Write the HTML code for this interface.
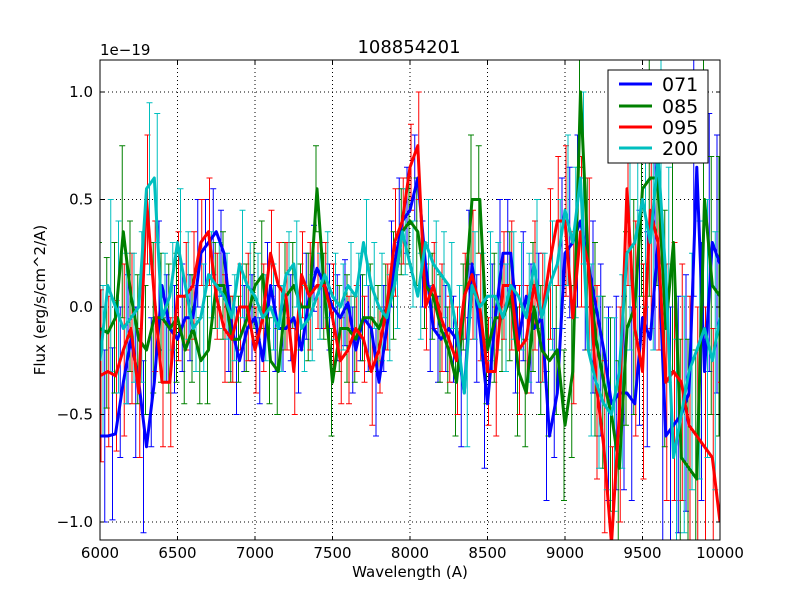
<!DOCTYPE html>
<html><head><meta charset="utf-8"><style>
html,body{margin:0;padding:0;background:#fff;overflow:hidden;width:800px;height:600px;}
svg{display:block;}
svg text{font-family:"DejaVu Sans","Liberation Sans",sans-serif;}
</style></head><body>
<svg id="chart" width="800" height="600" xmlns="http://www.w3.org/2000/svg">
<rect width="800" height="600" fill="#fff"/>
<defs><clipPath id="clip"><rect x="100" y="60" width="620" height="480"/></clipPath></defs>
<g id="grid"></g>
<g id="series" clip-path="url(#clip)"></g>
<rect x="100" y="60" width="620" height="480" fill="none" stroke="#000" stroke-width="1"/>
<g id="ticks"></g>
<text x="409" y="53" font-size="18" text-anchor="middle">108854201</text>
<text x="100" y="55" font-size="15">1e−19</text>
<text x="410" y="577" font-size="15" text-anchor="middle">Wavelength (A)</text>
<text x="45" y="300" font-size="15" text-anchor="middle" transform="rotate(-90 45 300)">Flux (erg/s/cm^2/A)</text>
<g>
<rect x="608" y="70" width="100" height="93" fill="#fff" stroke="#000" stroke-width="1"/>
<line x1="619" y1="84" x2="652" y2="84" stroke="#0000ff" stroke-width="3"/>
<text x="662" y="91" font-size="19">071</text>
<line x1="619" y1="106" x2="652" y2="106" stroke="#008000" stroke-width="3"/>
<text x="662" y="113" font-size="19">085</text>
<line x1="619" y1="127" x2="652" y2="127" stroke="#ff0000" stroke-width="3"/>
<text x="662" y="134" font-size="19">095</text>
<line x1="619" y1="148" x2="652" y2="148" stroke="#00bfbf" stroke-width="3"/>
<text x="662" y="155" font-size="19">200</text>
</g>
</svg>
<script>
const wavelengths = [];
for (let w = 6000; w <= 10000; w += 50) wavelengths.push(w);
const xTicks = [6000,6500,7000,7500,8000,8500,9000,9500,10000];
const yTicks = [-1.0,-0.5,0.0,0.5,1.0];
const yTickLabels = ["−1.0","−0.5","0.0","0.5","1.0"];
const flux071 = [-0.6,-0.6,-0.59,-0.35,-0.15,-0.35,-0.65,-0.35,0.1,-0.1,-0.15,-0.05,-0.05,0.25,0.3,0.35,0.25,-0.1,-0.25,-0.1,-0.05,-0.25,0.1,-0.1,-0.1,-0.05,-0.2,0.05,0.18,0.1,0,-0.05,0.02,-0.2,-0.05,-0.1,-0.35,-0.1,0.2,0.4,0.45,0.6,0.2,-0.1,-0.15,-0.1,-0.15,-0.4,0.2,-0.1,-0.45,-0.05,0.25,0.25,-0.15,0.05,-0.1,-0.05,-0.6,-0.4,0.25,0.3,0.4,0.2,0,-0.2,-0.45,-0.4,-0.4,-0.45,-0.05,-0.15,0.3,-0.6,-0.55,-0.5,-0.4,0.65,-0.3,0.3,0.2];
const flux085 = [-0.1,-0.12,-0.05,0.35,0.05,-0.15,-0.2,-0.05,-0.05,-0.1,-0.05,-0.2,-0.1,-0.25,-0.2,0.1,0.1,-0.15,-0.15,-0.05,0.1,0.15,-0.25,-0.3,0.05,0.1,0,0,0.55,0.05,-0.35,-0.1,-0.1,-0.15,-0.05,-0.05,-0.1,0,0.1,0.35,0.4,0.35,0.1,0.05,-0.1,-0.2,-0.35,0,0.5,0.5,-0.2,-0.05,-0.05,0.05,-0.3,-0.4,0,-0.2,-0.25,-0.2,-0.55,-0.3,1.0,0.2,-0.15,-0.35,-0.5,-0.75,-0.1,0,0.55,0.6,0.6,-0.1,0.3,-0.7,-0.75,-0.8,0.5,0.1,0.05];
const flux095 = [-0.32,-0.3,-0.32,-0.2,-0.1,-0.4,0.5,0.05,-0.35,-0.35,0.05,0.05,0.1,0.3,0.35,0.05,-0.1,-0.15,0,0,-0.2,-0.05,0.25,0.1,0.05,-0.3,0.15,0.05,0.1,0.1,-0.05,-0.25,-0.2,-0.1,-0.15,-0.3,-0.2,0,0.3,0.4,0.65,0.75,0,0.1,-0.05,-0.15,-0.25,0.05,0.15,0,-0.3,-0.3,0.1,0.1,-0.2,-0.15,0.1,-0.05,0.2,0.4,0.4,-0.05,0.35,0.2,-0.35,-0.65,-1.1,-0.5,0.55,-0.1,-0.3,0.45,0.3,-0.35,-0.3,-0.35,-0.55,-0.6,-0.65,-0.7,-1.0];
const flux200 = [-0.25,0.1,0,-0.1,-0.05,0,0.55,0.6,-0.05,0.05,0.3,0.1,-0.1,-0.05,0.15,0.1,0.05,-0.05,0.2,0.1,0.05,-0.05,0,-0.1,0.15,0.2,-0.1,-0.05,0.05,0.15,0.05,0,0.1,0.05,0.3,0.1,0,-0.05,0.1,0.35,0.2,0.05,0.3,0.2,0.15,0.1,-0.1,-0.4,0.1,0,0.05,0.05,-0.05,0.1,0.05,-0.05,0.2,-0.05,0.1,0.2,0.45,0.3,0.6,-0.2,-0.35,-0.45,-0.5,-0.3,0.25,0.3,0.5,0.3,0.7,0.15,-0.7,-0.5,-0.3,-0.2,-0.1,-0.25,-0.05];
const errA = [0.35,0.4,0.4,0.35,0.3,0.35,0.4,0.3,0.3,0.25,0.25,0.25,0.2,0.25,0.2,0.2,0.2,0.2,0.25,0.2,0.2,0.2,0.2,0.2,0.2,0.2,0.2,0.2,0.2,0.2,0.2,0.2,0.2,0.2,0.2,0.2,0.25,0.2,0.2,0.2,0.2,0.2,0.2,0.2,0.2,0.2,0.2,0.25,0.25,0.25,0.3,0.25,0.25,0.25,0.25,0.3,0.3,0.3,0.3,0.3,0.35,0.35,0.4,0.4,0.4,0.4,0.45,0.45,0.45,0.45,0.5,0.5,0.5,0.5,0.55,0.55,0.55,0.6,0.6,0.6,0.6];
const errB = [0.4,0.35,0.35,0.4,0.35,0.3,0.3,0.35,0.3,0.3,0.3,0.25,0.25,0.2,0.25,0.2,0.25,0.2,0.2,0.25,0.2,0.25,0.2,0.2,0.25,0.2,0.2,0.25,0.2,0.2,0.25,0.2,0.25,0.2,0.2,0.25,0.2,0.2,0.25,0.2,0.2,0.25,0.2,0.2,0.25,0.2,0.25,0.2,0.3,0.25,0.25,0.3,0.25,0.3,0.3,0.25,0.3,0.3,0.35,0.3,0.35,0.4,0.35,0.4,0.45,0.4,0.45,0.5,0.45,0.5,0.5,0.55,0.5,0.55,0.6,0.55,0.6,0.6,0.65,0.6,0.65];
const seriesNames = ["071","085","095","200"];
const seriesColors = ["#0000ff","#008000","#ff0000","#00bfbf"];
const seriesValues = [flux071, flux085, flux095, flux200];
const seriesErrors = [errA, errB, errB, errA];

const NS = "http://www.w3.org/2000/svg";
const X0=100, X1=720, Y0=60, Y1=540;
const xMin=6000, xMax=10000, yMin=-1.0837, yMax=1.1488;
function xs(v){return X0+(v-xMin)/(xMax-xMin)*(X1-X0);}
function ys(v){return Y1-(v-yMin)/(yMax-yMin)*(Y1-Y0);}
function clampY(y){return Math.max(Y0, Math.min(Y1, y));}
function mk(tag, attrs, parent){const e=document.createElementNS(NS,tag);for(const k in attrs)e.setAttribute(k,attrs[k]);parent.appendChild(e);return e;}

const grid=document.getElementById('grid'), ticks=document.getElementById('ticks'), sg=document.getElementById('series');
xTicks.forEach(t=>{
  const x=xs(t);
  const g=mk('line',{x1:x,y1:Y0,x2:x,y2:Y1,stroke:'#000','stroke-dasharray':'1,3','stroke-width':1},grid);
  
  
  mk('line',{x1:x,y1:Y1,x2:x,y2:Y1-4,stroke:'#000'},ticks);
  mk('line',{x1:x,y1:Y0,x2:x,y2:Y0+4,stroke:'#000'},ticks);
  const tx=mk('text',{x:x,y:Y1+18,'font-size':15,'text-anchor':'middle'},ticks);
  tx.textContent=t;
  
  
});
yTicks.forEach((t,i)=>{
  const y=ys(t);
  const g=mk('line',{x1:X0,y1:y,x2:X1,y2:y,stroke:'#000','stroke-dasharray':'1,3','stroke-width':1},grid);
  
  
  mk('line',{x1:X0,y1:y,x2:X0+4,y2:y,stroke:'#000'},ticks);
  mk('line',{x1:X1,y1:y,x2:X1-4,y2:y,stroke:'#000'},ticks);
  const tx=mk('text',{x:X0-7,y:y+5,'font-size':15,'text-anchor':'end'},ticks);
  tx.textContent=yTickLabels[i];
  
  
});
seriesValues.forEach((vals,si)=>{
  const col=seriesColors[si], errs=seriesErrors[si];
  const eg=mk('g',{},sg);
  
  
  vals.forEach((v,i)=>{
    const x=xs(wavelengths[i])+(si-1.5)*2;
    const ytr=ys(v+errs[i]), ybr=ys(v-errs[i]);
    const yt=clampY(ytr), yb=clampY(ybr);
    mk('line',{x1:x,y1:yt,x2:x,y2:yb,stroke:col,'stroke-width':1},eg);
    if(ytr>=Y0) mk('line',{x1:x-3,y1:yt,x2:x+3,y2:yt,stroke:col,'stroke-width':1},eg);
    if(ybr<=Y1) mk('line',{x1:x-3,y1:yb,x2:x+3,y2:yb,stroke:col,'stroke-width':1},eg);
  });
});
seriesValues.forEach((vals,si)=>{
  const pts=vals.map((v,i)=>xs(wavelengths[i]).toFixed(1)+','+ys(v).toFixed(1)).join(' ');
  const pl=mk('polyline',{points:pts,fill:'none',stroke:seriesColors[si],'stroke-width':3,'stroke-linejoin':'round'},sg);
  
  
});
</script>
</body></html>
